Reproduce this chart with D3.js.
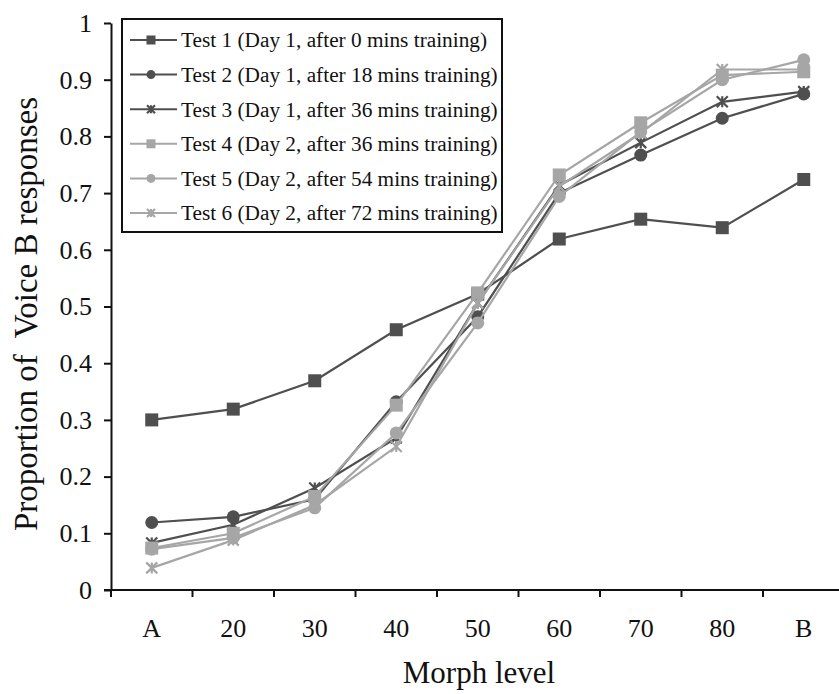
<!DOCTYPE html>
<html>
<head>
<meta charset="utf-8">
<script src="https://cdn.jsdelivr.net/npm/d3@7"></script>
<style>
  html, body { margin: 0; padding: 0; background: #fff; }
  svg { display: block; }
  svg text { font-family: "Liberation Serif", "Times New Roman", serif !important; fill: #111; }
</style>
</head>
<body>
<svg id="chart" width="839" height="694"></svg>
<script>
// Morph levels along the x axis
const categories = ["A", "20", "30", "40", "50", "60", "70", "80", "B"];

// Proportion of "Voice B" responses per test session
const test1 = [0.300, 0.319, 0.369, 0.459, 0.522, 0.619, 0.654, 0.639, 0.724];
const test2 = [0.119, 0.129, 0.160, 0.332, 0.482, 0.700, 0.767, 0.832, 0.875];
const test3 = [0.083, 0.115, 0.180, 0.268, 0.506, 0.714, 0.789, 0.861, 0.879];
const test4 = [0.074, 0.100, 0.165, 0.326, 0.524, 0.732, 0.824, 0.908, 0.914];
const test5 = [0.072, 0.092, 0.145, 0.277, 0.471, 0.694, 0.808, 0.900, 0.935];
const test6 = [0.039, 0.088, 0.150, 0.253, 0.506, 0.712, 0.806, 0.918, 0.918];

const seriesNames = [
  "Test 1 (Day 1, after 0 mins training)",
  "Test 2 (Day 1, after 18 mins training)",
  "Test 3 (Day 1, after 36 mins training)",
  "Test 4 (Day 2, after 36 mins training)",
  "Test 5 (Day 2, after 54 mins training)",
  "Test 6 (Day 2, after 72 mins training)"
];
const seriesValues = [test1, test2, test3, test4, test5, test6];
const yTickValues = [0, 0.1, 0.2, 0.3, 0.4, 0.5, 0.6, 0.7, 0.8, 0.9, 1];
const yTickLabels = ["0", "0.1", "0.2", "0.3", "0.4", "0.5", "0.6", "0.7", "0.8", "0.9", "1"];

const DARK = "#4f4f4f";
const LIGHT = "#a6a6a6";
const styles = [
  { color: DARK,  marker: "square" },
  { color: DARK,  marker: "circle" },
  { color: DARK,  marker: "star" },
  { color: LIGHT, marker: "square" },
  { color: LIGHT, marker: "circle" },
  { color: LIGHT, marker: "star" }
];

const svg = d3.select("#chart");

const x = d3.scaleBand().domain(categories).range([111, 844.5]).padding(0);
const y = d3.scaleLinear().domain([0, 1]).range([590, 23]);

// Y axis
const yAxis = svg.append("g").attr("transform", "translate(111,0)")
  .call(d3.axisLeft(y).tickValues(yTickValues).tickSize(7).tickSizeOuter(0)
        .tickFormat((d, i) => yTickLabels[i]));
yAxis.attr("font-family", null);
yAxis.select(".domain").attr("stroke", "#111").attr("stroke-width", 2);
yAxis.selectAll(".tick line").attr("stroke", "#111").attr("stroke-width", 2);
yAxis.selectAll(".tick text").attr("font-size", 26).attr("x", -19).attr("fill", "#111");

// X axis: labels centred in bands, tick marks on band boundaries
const xAxisG = svg.append("g").attr("transform", "translate(0,590)");
xAxisG.append("line").attr("x1", 104).attr("x2", 839).attr("y1", 0).attr("y2", 0)
  .attr("stroke", "#111").attr("stroke-width", 2);
xAxisG.selectAll("line.tk").data(categories).join("line").attr("class", "tk")
  .attr("x1", d => x(d)).attr("x2", d => x(d)).attr("y1", 0).attr("y2", 7)
  .attr("stroke", "#111").attr("stroke-width", 2);
xAxisG.selectAll("text.lbl").data(categories).join("text").attr("class", "lbl")
  .attr("x", d => x(d) + x.bandwidth() / 2).attr("y", 47)
  .attr("text-anchor", "middle").attr("font-size", 26).text(d => d);

// Axis titles
svg.append("text").attr("x", 479).attr("y", 683).attr("text-anchor", "middle")
  .attr("font-size", 31).text("Morph level");
svg.append("text").attr("transform", "translate(37,314) rotate(-90)")
  .attr("text-anchor", "middle").attr("font-size", 33)
  .attr("xml:space", "preserve").text("Proportion of  Voice B responses");

// Marker drawing helper
function drawMarker(g, type, color, cx, cy, s) {
  if (type === "square") {
    g.append("rect").attr("x", cx - s / 2).attr("y", cy - s / 2)
      .attr("width", s).attr("height", s).attr("fill", color);
  } else if (type === "circle") {
    g.append("circle").attr("cx", cx).attr("cy", cy).attr("r", s / 2).attr("fill", color);
  } else {
    const h = s / 2;
    g.append("path")
      .attr("d", `M${cx - h},${cy - h}L${cx + h},${cy + h}M${cx - h},${cy + h}L${cx + h},${cy - h}M${cx},${cy - h}L${cx},${cy + h}`)
      .attr("stroke", color).attr("stroke-width", 2.2).attr("fill", "none");
  }
}

const cx = d => x(d) + x.bandwidth() / 2;
const line = d3.line().x((d, i) => cx(categories[i])).y(d => y(d));

const plot = svg.append("g");
seriesValues.forEach((vals, si) => {
  const st = styles[si];
  const g = plot.append("g");
  g.append("path").datum(vals).attr("d", line).attr("fill", "none")
    .attr("stroke", st.color).attr("stroke-width", 2.2);
  vals.forEach((v, i) => drawMarker(g, st.marker, st.color, cx(categories[i]), y(v),
    st.marker === "square" ? 13 : st.marker === "circle" ? 13 : 11));
});

// Legend
const legend = svg.append("g");
legend.append("rect").attr("x", 122).attr("y", 19).attr("width", 380).attr("height", 213)
  .attr("fill", "#fff").attr("stroke", "#111").attr("stroke-width", 2);
seriesNames.forEach((name, i) => {
  const ly = 40 + i * 34.6;
  const st = styles[i];
  legend.append("line").attr("x1", 130).attr("x2", 177).attr("y1", ly).attr("y2", ly)
    .attr("stroke", st.color).attr("stroke-width", 2);
  drawMarker(legend, st.marker, st.color, 151, ly, st.marker === "star" ? 8 : 9);
  legend.append("text").attr("x", 181).attr("y", ly).attr("dy", "0.35em")
    .attr("font-size", 21.3).text(name);
});
</script>
</body>
</html>
